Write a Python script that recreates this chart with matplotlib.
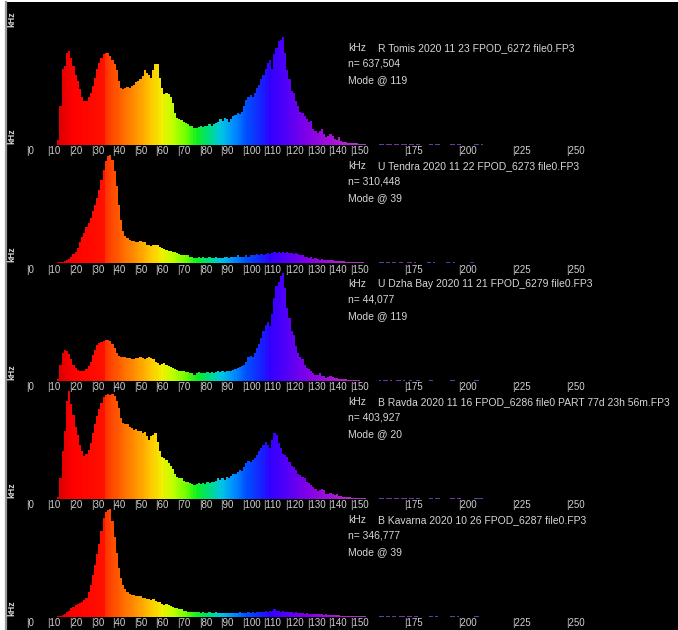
import numpy as np
import matplotlib
matplotlib.use("Agg")
import matplotlib.pyplot as plt
from matplotlib.colors import to_rgb
from matplotlib.lines import Line2D
from matplotlib.patches import Rectangle

# ---------------- data ----------------
START_KHZ = 12  # first bin (kHz) of every histogram list below

TITLES = [
    "R Tomis 2020 11 23 FPOD_6272 file0.FP3",
    "U Tendra 2020 11 22 FPOD_6273 file0.FP3",
    "U Dzha Bay 2020 11 21 FPOD_6279 file0.FP3",
    "B Ravda 2020 11 16 FPOD_6286 file0 PART 77d 23h 56m.FP3",
    "B Kavarna 2020 10 26 FPOD_6287 file0.FP3",
]
N_TEXT = ["637,504", "310,448", "44,077", "403,927", "346,777"]
MODES = [119, 39, 119, 20, 39]
TICK_KHZ = [0, 10, 20, 30, 40, 50, 60, 70, 80, 90, 100, 110, 120, 130, 140, 150,
            175, 200, 225, 250]

# relative counts (% of mode bin), 1 kHz bins from 12 kHz up to 150 kHz
TOMIS = [0, 0, 0, 5, 36, 70, 73, 85, 87, 81, 73, 65, 59, 52, 44, 41, 41, 44, 48, 55,
         62, 70, 76, 81, 84, 85, 85, 82, 79, 75, 69, 59, 53, 52, 53, 54, 53, 55, 56, 58,
         59, 61, 64, 69, 67, 65, 62, 69, 75, 75, 62, 53, 47, 48, 47, 44, 39, 30, 25, 24,
         23, 21, 20, 19, 18, 18, 16, 16, 17, 18, 17, 18, 18, 19, 18, 19, 20, 21, 24, 22,
         25, 24, 21, 24, 27, 28, 30, 29, 31, 36, 42, 44, 46, 44, 48, 53, 56, 61, 65, 70,
         76, 79, 70, 84, 90, 96, 97, 100, 85, 69, 61, 50, 48, 41, 36, 31, 30, 27, 24, 21,
         22, 15, 13, 11, 13, 15, 10, 7, 8, 10, 8, 6, 5, 7, 4, 3, 2.5, 2, 2]
TENDRA = [0, 0, 0, 0.5, 1, 1, 2, 3, 4, 6, 8, 10, 14, 19, 24, 28, 33, 37, 42, 48,
          54, 60, 68, 77, 86, 94, 99, 100, 95, 85, 71, 54, 40, 30, 25, 23, 21, 20, 20, 19,
          19, 20, 19, 19, 17, 17, 16, 17, 17, 17, 15, 14, 13, 12, 11, 11, 10, 10, 9, 8,
          7, 7, 7, 7, 6, 6, 5, 5, 6, 5, 6, 5, 5, 6, 5, 5, 6, 5, 5, 5,
          6, 6, 5, 6, 6, 6, 7, 6, 6, 6, 7, 6, 7, 7, 7, 8, 7, 8, 7, 8,
          9, 8, 9, 10, 9, 10, 9, 10, 9, 10, 9, 9, 8, 9, 8, 7, 7, 6, 6, 5,
          6, 4, 5, 4, 3, 4, 3, 3, 2.5, 3, 2.5, 2, 2, 2, 1.5, 1.5, 1.2, 1.2, 1]
DZHA = [0, 0, 0, 2, 15, 26, 29, 28, 25, 20, 15, 12, 10, 9, 9, 9, 11, 14, 18, 24,
        29, 33, 35, 36, 37, 38, 38, 37, 34, 31, 26, 23, 22, 22, 22, 21, 21, 20, 20, 21,
        21, 22, 21, 20, 21, 22, 21, 20, 18, 17, 15, 16, 17, 15, 14, 13, 12, 11, 10, 9,
        9, 9, 8, 8, 7, 7, 6, 7, 8, 7, 7, 7, 8, 7, 8, 7, 8, 9, 8, 9,
        8, 9, 9, 9, 10, 11, 12, 13, 14, 15, 18, 22, 23, 22, 26, 31, 34, 40, 46, 52,
        55, 51, 62, 77, 88, 92, 97, 100, 86, 68, 58, 46, 43, 32, 26, 22, 20, 15, 12, 11,
        9, 7, 6, 6, 7, 5, 5, 3, 4, 5, 4, 3, 3, 2, 2, 1.5, 1.5, 1.2, 1]
RAVDA = [0, 0, 0, 2, 19, 44, 63, 91, 100, 88, 78, 67, 59, 50, 44, 40, 42, 45, 52, 61,
         69, 77, 83, 89, 94, 96, 97, 96, 97, 95, 91, 84, 75, 70, 69, 69, 67, 66, 64, 65,
         63, 63, 61, 62, 58, 55, 58, 59, 61, 53, 44, 39, 38, 36, 33, 31, 28, 23, 20, 19,
         19, 17, 16, 16, 15, 14, 13, 14, 15, 14, 15, 14, 16, 15, 16, 16, 17, 19, 18, 19,
         18, 20, 19, 21, 23, 23, 25, 27, 26, 30, 33, 35, 34, 36, 38, 41, 44, 47, 50, 53,
         50, 47, 55, 61, 59, 52, 47, 42, 41, 39, 34, 31, 30, 27, 23, 22, 20, 19, 16, 15,
         13, 11, 9, 7, 8, 9, 8, 5, 5, 6, 5, 4, 5, 3, 3, 2, 2, 1.5, 1.5]
KAVARNA = [0, 0, 0, 0.5, 1, 2, 3, 5, 6, 8, 9, 11, 12, 13, 14, 16, 18, 23, 30, 39,
           48, 58, 68, 80, 92, 97, 99, 100, 89, 74, 59, 45, 36, 30, 26, 23, 21, 20, 20, 19,
           19, 19, 18, 18, 17, 17, 16, 17, 15, 14, 14, 12, 11, 12, 11, 10, 9, 8, 8, 7,
           7, 6, 6, 5, 5, 5, 5, 5, 5, 4, 5, 4, 4, 5, 4, 4, 5, 4, 4, 4,
           4, 4, 4, 4, 4, 4, 4, 5, 4, 4, 4, 5, 4, 5, 4, 5, 5, 5, 5, 6,
           5, 6, 6, 7, 6, 6, 5, 6, 5, 5, 5, 5, 4, 5, 4, 4, 4, 3, 4, 3,
           3, 3, 3, 2.5, 3, 2.5, 2, 2.5, 2, 2, 2, 1.5, 1.5, 1.5, 1.2, 1.2, 1, 1, 1]

# sparse tails, 151 kHz up to 212 kHz
TAIL_TOMIS = [1.5, 1.5, 1.5, 1.2, 1.2, 1, 1, 0, 0, 0, 0, 0, 0,
              1, 1, 0, 1, 1, 1, 0, 1, 1, 0, 1, 1, 1, 0, 1, 1, 0, 1, 1,
              0, 0, 0, 0, 1, 1, 0, 1, 1, 0, 0, 0, 0, 0, 1, 1, 0, 1, 1,
              0, 0, 0, 0, 0, 0, 1, 1, 0, 1, 0]
TAIL_TENDRA = [1, 1, 1, 0.8, 0.8, 0.8, 0, 0, 0, 0, 0, 0, 0,
               1, 1, 0, 1, 1, 0, 1, 1, 0, 1, 1, 0, 0, 1, 1, 0, 1, 0, 0,
               0, 0, 0, 1, 1, 0, 1, 0, 0, 0, 0, 0, 1, 1, 0, 1, 0, 0, 0,
               0, 0, 0, 0, 1, 1, 0, 0, 0, 0, 0]
TAIL_DZHA = [1, 1, 0.8, 0.8, 0, 0, 0, 0, 0, 0, 0, 0, 0,
             1, 0, 1, 1, 0, 1, 0, 0, 1, 1, 0, 1, 0, 0, 1, 0, 0, 1, 1,
             0, 0, 0, 0, 1, 1, 0, 0, 0, 0, 0, 0, 0, 0, 1, 1, 0, 0, 0,
             0, 0, 0, 0, 0, 0, 1, 1, 0, 0, 0]
TAIL_RAVDA = [1.2, 1.2, 1.2, 1, 1, 1, 0.8, 0, 0, 0, 0, 0, 0,
              1, 1, 0, 1, 1, 1, 0, 1, 1, 0, 1, 1, 1, 0, 1, 1, 0, 1, 1,
              0, 0, 0, 0, 1, 1, 0, 1, 1, 0, 0, 0, 0, 0, 1, 1, 0, 1, 1,
              0, 0, 0, 0, 0, 0, 1.2, 1.2, 1.2, 1, 0]
TAIL_KAVARNA = [1, 1, 1, 0.8, 0.8, 0.8, 0.8, 0, 0, 0, 0, 0, 0,
                1, 1, 0, 1, 1, 0, 1, 1, 0, 1, 1, 1, 0, 1, 1, 0, 1, 1, 0,
                0, 0, 0, 0, 1, 1, 0, 1, 0, 0, 0, 0, 0, 0, 1, 1, 0, 1, 0,
                0, 0, 0, 0, 0, 0, 1, 1, 0, 0, 0]

PANELS = [TOMIS + TAIL_TOMIS, TENDRA + TAIL_TENDRA, DZHA + TAIL_DZHA,
          RAVDA + TAIL_RAVDA, KAVARNA + TAIL_KAVARNA]

# ---------------- style ----------------
W, H = 678, 630
PX_PER_KHZ = 2.16
X0_PX = 26           # pixel column of 0 kHz
BASE0 = 145          # pixel row of first baseline
STEP = 118           # vertical panel pitch (px)
PEAK_PX = 108        # height of the mode bar (px)
LABEL_OFF_PX = 6.5   # tick-label row below baseline
FONT = "Liberation Sans"
TXT = "#d6d6d6"

COLOR_STOPS = [
    (10, "#b80000"), (16, "#e00000"), (22, "#ff0000"), (36, "#ff1000"),
    (37, "#ff3300"), (45, "#ff6a00"), (52, "#ff9a00"), (58, "#ffc800"),
    (63, "#f0f000"), (68, "#c0ff00"), (74, "#70ff00"), (79, "#10f020"),
    (84, "#00e070"), (90, "#00c8e0"), (96, "#0090ff"), (102, "#0050ff"),
    (110, "#1a1aff"), (113, "#3000ff"), (120, "#5000f8"), (130, "#8000e8"),
    (140, "#a010d8"), (150, "#b828c8"), (157, "#9a40c0"), (162, "#6a3aa0"),
    (220, "#6a3aa0"),
]


def freq_colors(freq):
    ks = [k for k, _ in COLOR_STOPS]
    rgb = np.array([to_rgb(c) for _, c in COLOR_STOPS])
    return np.stack([np.interp(freq, ks, rgb[:, j]) for j in range(3)], axis=1)


fig = plt.figure(figsize=(W / 100, H / 100), dpi=100)
fig.patch.set_facecolor("white")
fig.add_artist(Rectangle((6 / W, 0), 1 - 6 / W, (H - 2) / H,
                         transform=fig.transFigure, facecolor="black",
                         edgecolor="none", zorder=-10))
fig.add_artist(Line2D([6 / W, 6 / W], [0, (H - 2) / H], transform=fig.transFigure,
                      color="#9a9a9a", lw=1.6, zorder=-9))

# top "kHz" belonging to the (cropped) panel above
fig.text(12 / W, 1 - (BASE0 - STEP - 8) / H, "kHz", rotation=90, ha="center",
         va="center", fontsize=6.3, fontweight="bold", color=TXT, family=FONT)

for i, vals in enumerate(PANELS):
    base = BASE0 + STEP * i
    top = base - STEP
    ax = fig.add_axes([0, 1 - base / H, 1, STEP / H])
    ax.set_xlim(-X0_PX / PX_PER_KHZ, (W - X0_PX) / PX_PER_KHZ)
    ax.set_ylim(0, 100 * STEP / PEAK_PX)
    ax.axis("off")
    ax.patch.set_alpha(0)
    v = np.array(vals, dtype=float)
    freq = START_KHZ + np.arange(len(v))
    ax.bar(freq, v, width=1.04, color=freq_colors(freq), linewidth=0,
           align="center", clip_on=False)

    for t in TICK_KHZ:
        ax.annotate("|" + str(t), xy=(t, 0), xycoords=("data", "axes fraction"),
                    xytext=(0, -LABEL_OFF_PX * 0.72), textcoords="offset points",
                    ha="left", va="center", fontsize=7.0, color="#d0d0d0",
                    family=FONT)

    fig.text(12 / W, 1 - (base - 9) / H, "kHz", rotation=90, ha="center",
             va="center", fontsize=6.3, fontweight="bold", color=TXT, family=FONT)

    fig.text(348 / W, 1 - (top + 21) / H, "kHz", ha="left", va="center",
             fontsize=7.5, color=TXT, family=FONT)
    fig.text(378 / W, 1 - (top + 21) / H, TITLES[i], ha="left", va="center",
             fontsize=7.5, color=TXT, family=FONT)
    fig.text(348 / W, 1 - (top + 37) / H, "n= " + N_TEXT[i], ha="left",
             va="center", fontsize=7.5, color=TXT, family=FONT)
    fig.text(348 / W, 1 - (top + 53) / H, "Mode @ " + str(MODES[i]), ha="left",
             va="center", fontsize=7.5, color=TXT, family=FONT)

fig.savefig("out.png", dpi=100, facecolor=fig.get_facecolor())
